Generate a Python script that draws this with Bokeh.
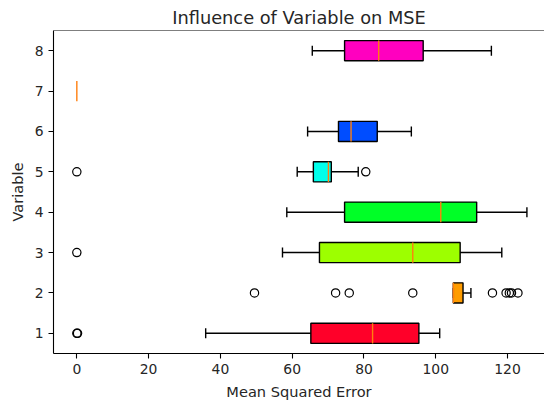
from bokeh.plotting import figure
from bokeh.models import Range1d, FixedTicker, Span, ColumnDataSource
from bokeh.embed import file_html
from bokeh.resources import INLINE

# ---- data ----
variables = [1, 2, 3, 4, 5, 6, 7, 8]
whisker_low = [35.9, 104.9, 57.3, 58.5, 61.4, 64.3, 0.0, 65.6]
q1 = [65.2, 104.9, 67.6, 74.6, 65.9, 72.9, 0.0, 74.6]
median = [82.4, 104.9, 93.6, 101.4, 70.1, 76.4, 0.0, 84.1]
q3 = [95.3, 107.6, 106.8, 111.4, 70.9, 83.7, 0.0, 96.5]
whisker_high = [101.1, 109.8, 118.4, 125.4, 78.4, 93.2, 0.0, 115.5]
box_colors = ["#ff0029", "#ff9c00", "#9dff00", "#00ff27", "#00ffeb", "#004dff", "#7800ff", "#ff00bf"]

outlier_var = [1, 1, 2, 2, 2, 2, 2, 2, 2, 2, 2, 3, 5, 5]
outlier_val = [0.0, 0.2, 49.5, 72.1, 75.9, 93.6, 115.8, 119.6, 120.5, 121.1, 122.9, 0.0, 0.0, 80.5]

x_ticks = [0, 20, 40, 60, 80, 100, 120]

FONT = "DejaVu Sans"
BOX_H = 0.5
CAP_H = 0.25

p = figure(width=544, height=402, output_backend="svg", toolbar_location=None,
           x_range=Range1d(-6.5, 130.3), y_range=Range1d(0.5, 8.5),
           min_border_left=53, min_border_right=0, min_border_top=30, min_border_bottom=46,
           title="Influence of Variable on MSE")
p.outline_line_color = None
p.grid.visible = False
p.background_fill_color = "white"
p.border_fill_color = "white"

p.title.text_font = FONT
p.title.text_font_size = "17.8px"
p.title.text_font_style = "normal"
p.title.align = "center"
p.title.text_color = "#262626"
p.title.standoff = 6

src = ColumnDataSource(dict(y=variables, med=median,
                            yb0=[v - BOX_H / 2 for v in variables], yb1=[v + BOX_H / 2 for v in variables]))

# boxes / whiskers only for variables with a non-degenerate spread
keep = [i for i in range(len(variables)) if whisker_high[i] > whisker_low[i]]
bsrc = ColumnDataSource(dict(y=[variables[i] for i in keep],
                             wl=[whisker_low[i] for i in keep], q1=[q1[i] for i in keep],
                             q3=[q3[i] for i in keep], wh=[whisker_high[i] for i in keep],
                             color=[box_colors[i] for i in keep],
                             yc0=[variables[i] - CAP_H / 2 for i in keep],
                             yc1=[variables[i] + CAP_H / 2 for i in keep]))

lw = 1.4
p.hbar(y="y", left="q1", right="q3", height=BOX_H, fill_color="color", line_color="black",
       line_width=lw, source=bsrc)
p.segment(x0="wl", y0="y", x1="q1", y1="y", line_color="black", line_width=lw, source=bsrc)
p.segment(x0="q3", y0="y", x1="wh", y1="y", line_color="black", line_width=lw, source=bsrc)
p.segment(x0="wl", y0="yc0", x1="wl", y1="yc1", line_color="black", line_width=lw, source=bsrc)
p.segment(x0="wh", y0="yc0", x1="wh", y1="yc1", line_color="black", line_width=lw, source=bsrc)
p.segment(x0="med", y0="yb0", x1="med", y1="yb1", line_color="#ff7f0e", line_width=lw, source=src)

p.scatter(x=outlier_val, y=outlier_var, marker="circle", size=8.3, fill_color=None,
          line_color="black", line_width=1.2)

p.add_layout(Span(location=8.5, dimension="width", line_color="black", line_width=1.1))

for ax in (p.xaxis[0], p.yaxis[0]):
    ax.axis_line_color = "black"
    ax.axis_line_width = 1.1
    ax.major_tick_line_color = "black"
    ax.major_tick_line_width = 1.1
    ax.major_tick_out = 5
    ax.major_tick_in = 0
    ax.minor_tick_line_color = None
    ax.major_label_text_font = FONT
    ax.major_label_text_font_size = "13.9px"
    ax.major_label_text_color = "#262626"
    ax.major_label_standoff = 5
    ax.axis_label_text_font = FONT
    ax.axis_label_text_font_size = "14.6px"
    ax.axis_label_text_font_style = "normal"
    ax.axis_label_text_color = "#262626"
    ax.axis_label_standoff = 6

p.xaxis[0].ticker = FixedTicker(ticks=x_ticks)
p.yaxis[0].ticker = FixedTicker(ticks=variables)
p.xaxis[0].axis_label = "Mean Squared Error"
p.yaxis[0].axis_label = "Variable"

open("out.html", "w").write(file_html(p, INLINE))
